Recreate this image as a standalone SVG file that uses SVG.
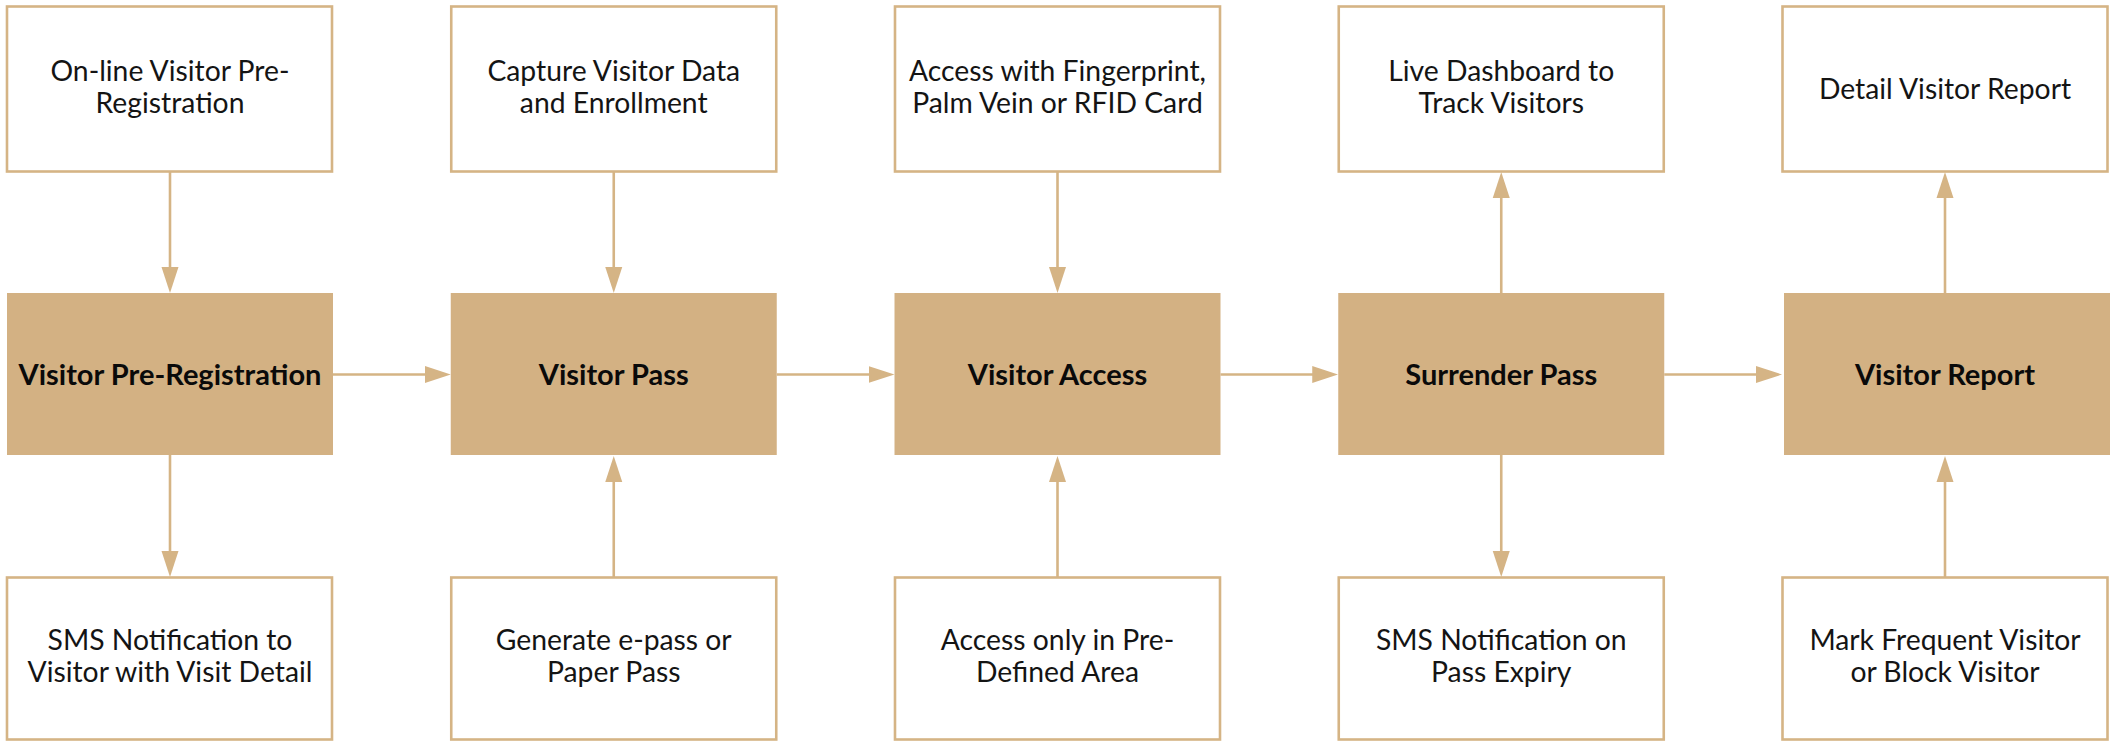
<svg xmlns="http://www.w3.org/2000/svg" width="2112" height="741" viewBox="0 0 2112 741">
<defs>
<style>
.sub{fill:#ffffff;stroke:#D5B485;stroke-width:2.6}
.main{fill:#D3B183}
.t{font-family:Lato,"Liberation Sans",sans-serif;font-size:28.3px;fill:#141414;text-anchor:middle}
.b{font-family:Lato,"Liberation Sans",sans-serif;font-size:29px;font-weight:bold;fill:#0a0a0a;text-anchor:middle}
.c{stroke:#D5B485;stroke-width:2.6;fill:none;marker-end:url(#ah)}
</style>
<marker id="ah" markerUnits="userSpaceOnUse" markerWidth="26" markerHeight="18" viewBox="0 0 26 18" refX="16" refY="9" orient="auto">
<path d="M0,0.5 L26,9 L0,17.5 z" fill="#D5B485"/>
</marker>
</defs>
<rect width="2112" height="741" fill="#ffffff"/>
<g id="connectors">
<line class="c" x1="170" y1="172" x2="170" y2="283"/>
<line class="c" x1="170" y1="455" x2="170" y2="567"/>
<line class="c" x1="613.75" y1="172" x2="613.75" y2="283"/>
<line class="c" x1="613.75" y1="577" x2="613.75" y2="466"/>
<line class="c" x1="1057.5" y1="172" x2="1057.5" y2="283"/>
<line class="c" x1="1057.5" y1="577" x2="1057.5" y2="466"/>
<line class="c" x1="1501.25" y1="293" x2="1501.25" y2="182"/>
<line class="c" x1="1501.25" y1="455" x2="1501.25" y2="567"/>
<line class="c" x1="1945" y1="293" x2="1945" y2="182"/>
<line class="c" x1="1945" y1="577" x2="1945" y2="466"/>
<line class="c" x1="333" y1="374.5" x2="440.75" y2="374.5"/>
<line class="c" x1="776.75" y1="374.5" x2="884.5" y2="374.5"/>
<line class="c" x1="1220.5" y1="374.5" x2="1328.25" y2="374.5"/>
<line class="c" x1="1664.25" y1="374.5" x2="1772" y2="374.5"/>
</g>
<g id="n-online">
<rect class="sub" x="7" y="6.5" width="325" height="165"/>
<text class="t" x="170" y="81">On-line Visitor Pre-</text>
<text class="t" x="170" y="113">Registration</text>
</g>
<g id="n-prereg">
<rect class="main" x="7" y="293" width="326" height="162"/>
<text class="b" x="170" y="385">Visitor Pre-Registration</text>
</g>
<g id="n-sms1">
<rect class="sub" x="7" y="577.5" width="325" height="162"/>
<text class="t" x="170" y="650">SMS Notification to</text>
<text class="t" x="170" y="682">Visitor with Visit Detail</text>
</g>
<g id="n-capture">
<rect class="sub" x="451.25" y="6.5" width="325" height="165"/>
<text class="t" x="613.75" y="81">Capture Visitor Data</text>
<text class="t" x="613.75" y="113">and Enrollment</text>
</g>
<g id="n-pass">
<rect class="main" x="450.75" y="293" width="326" height="162"/>
<text class="b" x="613.75" y="385">Visitor Pass</text>
</g>
<g id="n-generate">
<rect class="sub" x="451.25" y="577.5" width="325" height="162"/>
<text class="t" x="613.75" y="650">Generate e-pass or</text>
<text class="t" x="613.75" y="682">Paper Pass</text>
</g>
<g id="n-finger">
<rect class="sub" x="895" y="6.5" width="325" height="165"/>
<text class="t" x="1057.5" y="81">Access with Fingerprint,</text>
<text class="t" x="1057.5" y="113">Palm Vein or RFID Card</text>
</g>
<g id="n-access">
<rect class="main" x="894.5" y="293" width="326" height="162"/>
<text class="b" x="1057.5" y="385">Visitor Access</text>
</g>
<g id="n-area">
<rect class="sub" x="895" y="577.5" width="325" height="162"/>
<text class="t" x="1057.5" y="650">Access only in Pre-</text>
<text class="t" x="1057.5" y="682">Defined Area</text>
</g>
<g id="n-dashboard">
<rect class="sub" x="1338.75" y="6.5" width="325" height="165"/>
<text class="t" x="1501.25" y="81">Live Dashboard to</text>
<text class="t" x="1501.25" y="113">Track Visitors</text>
</g>
<g id="n-surrender">
<rect class="main" x="1338.25" y="293" width="326" height="162"/>
<text class="b" x="1501.25" y="385">Surrender Pass</text>
</g>
<g id="n-sms2">
<rect class="sub" x="1338.75" y="577.5" width="325" height="162"/>
<text class="t" x="1501.25" y="650">SMS Notification on</text>
<text class="t" x="1501.25" y="682">Pass Expiry</text>
</g>
<g id="n-detail">
<rect class="sub" x="1782.5" y="6.5" width="325" height="165"/>
<text class="t" x="1945" y="99">Detail Visitor Report</text>
</g>
<g id="n-report">
<rect class="main" x="1784" y="293" width="326" height="162"/>
<text class="b" x="1945" y="385">Visitor Report</text>
</g>
<g id="n-mark">
<rect class="sub" x="1782.5" y="577.5" width="325" height="162"/>
<text class="t" x="1945" y="650">Mark Frequent Visitor</text>
<text class="t" x="1945" y="682">or Block Visitor</text>
</g>
</svg>
